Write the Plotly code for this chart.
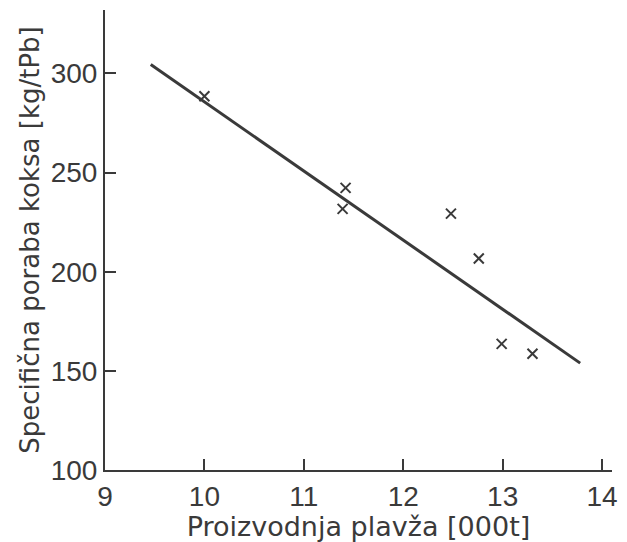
import plotly.graph_objects as go

# Measured points
production = [10.0, 11.39, 11.42, 12.48, 12.76, 12.99, 13.30]
coke_use = [288.5, 231.7, 242.3, 229.3, 206.7, 163.6, 158.6]

# Regression line endpoints
line_x = [9.46, 13.78]
line_y = [304.5, 153.9]

x_ticks = [9, 10, 11, 12, 13, 14]
y_ticks = [100, 150, 200, 250, 300]

ink = "#3a3a3a"

fig = go.Figure()
fig.add_trace(go.Scatter(x=line_x, y=line_y, mode="lines",
                         line=dict(color=ink, width=3), showlegend=False))
fig.add_trace(go.Scatter(x=production, y=coke_use, mode="markers",
                         marker=dict(symbol="x-thin", size=10,
                                     line=dict(color=ink, width=2)),
                         showlegend=False))

fig.update_layout(
    width=627, height=542,
    margin=dict(l=105, r=9, t=10, b=72),
    paper_bgcolor="white", plot_bgcolor="white",
    font=dict(family="Liberation Sans, Arial, sans-serif", color=ink, size=28),
    xaxis=dict(range=[9, 14.1], tickvals=x_ticks, ticks="inside", ticklen=11,
               tickwidth=2, tickcolor=ink, showline=True, linecolor=ink,
               linewidth=2, showgrid=False, zeroline=False,
               tickfont=dict(size=28, family="Liberation Sans, Arial, sans-serif"),
               title=dict(text="Proizvodnja plavža [000t]",
                          font=dict(size=27, family="DejaVu Sans, sans-serif"),
                          standoff=2)),
    yaxis=dict(range=[100, 332], tickvals=y_ticks, ticks="inside", ticklen=11,
               tickwidth=2, tickcolor=ink, showline=True, linecolor=ink,
               linewidth=2, showgrid=False, zeroline=False,
               tickfont=dict(size=28, family="Liberation Sans, Arial, sans-serif"),
               title=dict(text="Specifična poraba koksa [kg/tPb]",
                          font=dict(size=26, family="DejaVu Sans, sans-serif"),
                          standoff=4)),
)

fig.write_html("out.html")
